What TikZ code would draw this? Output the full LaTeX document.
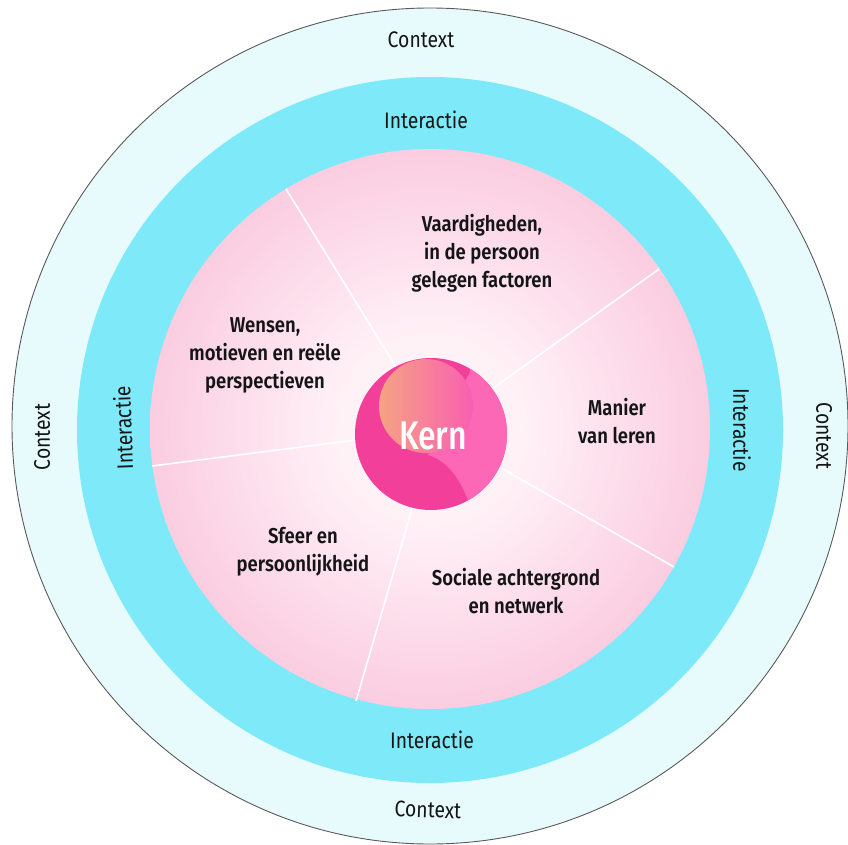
\documentclass[tikz,border=0pt]{standalone}
\usepackage{fontspec}
\setmainfont{Fira Sans}[FakeStretch=0.86]
\newfontfamily\medfont{Fira Sans SemiBold}[FakeStretch=0.86]
\newfontfamily\kernfont{Fira Sans Medium}[FakeStretch=0.8]
\definecolor{outerc}{HTML}{E7FBFD}
\definecolor{cyanc}{HTML}{7EEAF9}
\definecolor{pinkcen}{HTML}{FFF2F7}
\definecolor{pinkmid}{HTML}{FAC6DD}
\definecolor{pinkedge}{HTML}{F7A7CA}
\definecolor{kerndark}{HTML}{F2409A}
\definecolor{kernlight}{HTML}{FD68B6}
\definecolor{salmon}{HTML}{F5A383}
\definecolor{blobpink}{HTML}{F95FB0}
\definecolor{txt}{HTML}{151515}
\pgfdeclareradialshading{pinkglow}{\pgfpoint{0bp}{0bp}}{color(0bp)=(pinkcen);color(8bp)=(pinkcen);color(28bp)=(pinkmid);color(50bp)=(pinkedge)}
\tikzset{
  ringlabel/.style={font=\fontsize{22.5}{24}\selectfont, text=txt, inner sep=0pt},
  seglabel/.style={font=\medfont\fontsize{21.5}{28}\selectfont, text=txt, align=center, inner sep=0pt},
  divider/.style={draw=white, line width=1.6pt},
}
\begin{document}
\begin{tikzpicture}[x=1pt,y=-1pt]
\useasboundingbox (0,0) rectangle (848,845);
% rings
\filldraw[fill=outerc, draw=black!65, line width=0.9pt] (430,426) circle (418);
\fill[cyanc] (430,430) circle (353);
\shade[shading=pinkglow] (430,429) circle (280);
% dividers
\coordinate (ctr) at (435,430);
\coordinate (e1) at (286,189);
\coordinate (e2) at (659,269);
\coordinate (e3) at (674,567);
\coordinate (e4) at (356,701);
\coordinate (e5) at (152,466);
\foreach \e in {e1,e2,e3,e4,e5} \draw[divider] (\e) -- (ctr);
% kern
\fill[kerndark] (431,434) circle (76);
\begin{scope}
  \clip (431,434) circle (76);
  \fill[kernlight] (472,340) -- (470,372) .. controls (455,400) and (440,430) .. (428,455)
     .. controls (452,462) and (466,488) .. (474,520) -- (520,520) -- (520,340) -- cycle;
  \shade[left color=salmon, right color=blobpink] (426,406) circle (47);
\end{scope}
\node[font=\kernfont\fontsize{40}{40}\selectfont, text=white, inner sep=0pt] (kern) at (433,436) {Kern};
% ring labels
\node[ringlabel] (ctop) at (421,40) {Context};
\node[ringlabel, rotate=-2] (cbot) at (428,810) {Context};
\node[ringlabel, rotate=90] (cleft) at (42,437) {Context};
\node[ringlabel, rotate=-90] (cright) at (824,436) {Context};
\node[ringlabel] (itop) at (426,120) {Interactie};
\node[ringlabel] (ibot) at (432,740) {Interactie};
\node[ringlabel, rotate=92] (ileft) at (123,428) {Interactie};
\node[ringlabel, rotate=-90] (iright) at (742,430) {Interactie};
% segment labels
\node[seglabel] (s1) at (482,253) {Vaardigheden,\\in de persoon\\gelegen factoren};
\node[seglabel] (s2) at (265,355) {Wensen,\\motieven en reële\\perspectieven};
\node[seglabel] (s3) at (617,421) {Manier\\van leren};
\node[seglabel] (s4) at (303,552) {Sfeer en\\persoonlijkheid};
\node[seglabel] (s5) at (516,591) {Sociale achtergrond\\en netwerk};
\end{tikzpicture}
\end{document}
